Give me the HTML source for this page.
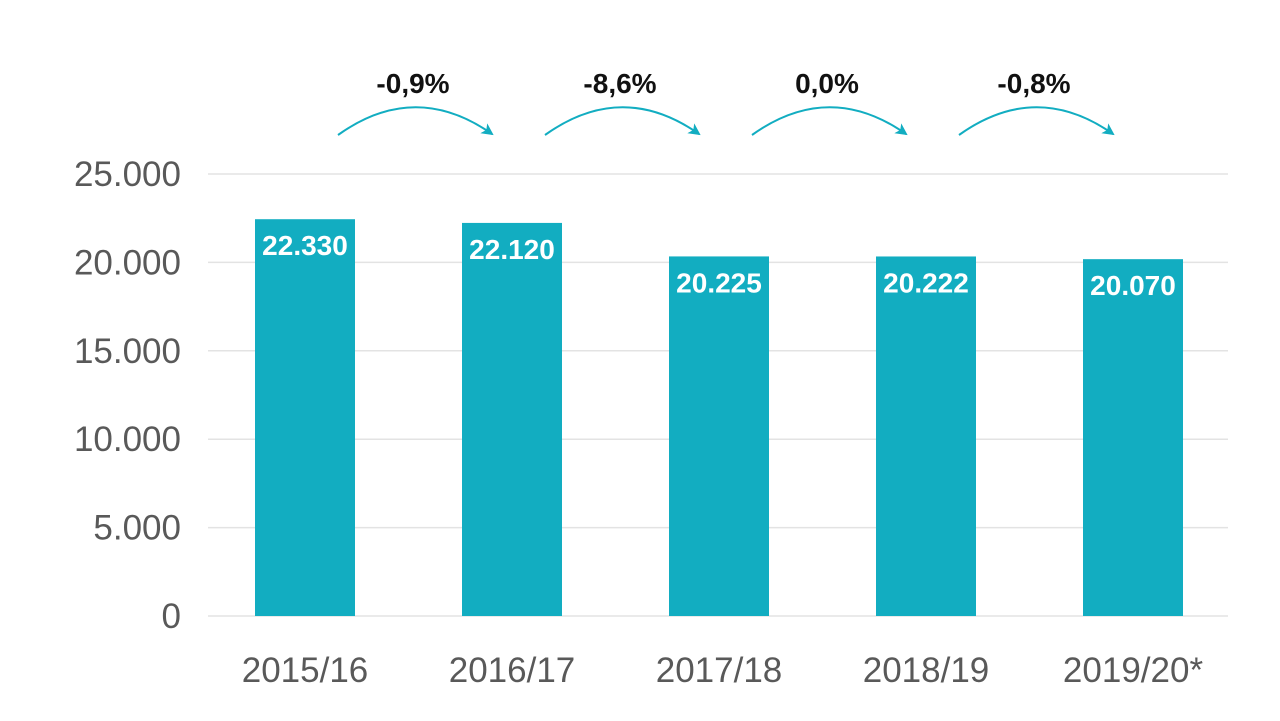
<!DOCTYPE html>
<html><head><meta charset="utf-8"><style>
body{margin:0;background:#fff;width:1280px;height:721px;overflow:hidden}
svg{display:block;font-family:"Liberation Sans",sans-serif}
</style></head><body>
<svg id="c" width="1280" height="721"></svg>
<script>
const categories=["2015/16","2016/17","2017/18","2018/19","2019/20*"];
const values=[22330,22120,20225,20222,20070];
const valueLabels=["22.330","22.120","20.225","20.222","20.070"];
const changeLabels=["-0,9%","-8,6%","0,0%","-0,8%"];
const yTicks=[0,5000,10000,15000,20000,25000];
const yTickLabels=["0","5.000","10.000","15.000","20.000","25.000"];
const NS="http://www.w3.org/2000/svg";
const svg=document.getElementById('c');
const y0=616,yTop=174,yMax=25000;
const y=v=>y0-(v/yMax)*(y0-yTop);
const x=i=>305+i*207;
function mk(t,a,p){const e=document.createElementNS(NS,t);for(const k in a)e.setAttribute(k,a[k]);(p||svg).appendChild(e);return e;}
const defs=mk('defs',{});
const m=mk('marker',{id:'ah',markerWidth:'12',markerHeight:'12',refX:'10',refY:'6',orient:'auto',markerUnits:'userSpaceOnUse'},defs);
mk('path',{d:'M0,0 L12,6 L0,12 L3,6 Z',fill:'#12adc1'},m);
yTicks.forEach((t,i)=>{
 const l=mk('line',{x1:208,x2:1228,y1:y(t),y2:y(t),stroke:'#e3e3e3','stroke-width':1.5});
 
 
 const tx=mk('text',{x:181,y:y(t)+12,'text-anchor':'end','font-size':35,fill:'#595959'});
 tx.textContent=yTickLabels[i];
 
 
});
categories.forEach((c,i)=>{
 const r=mk('rect',{x:x(i)-50,y:y(values[i])-2,width:100,height:y0-y(values[i])+2,fill:'#12adc1'});
 
 
 const v=mk('text',{x:x(i),y:y(values[i])+34,'text-anchor':'middle','font-size':28,'font-weight':'bold',fill:'#fff'});
 v.textContent=valueLabels[i];
 
 
 const xl=mk('text',{x:x(i),y:682,'text-anchor':'middle','font-size':35,fill:'#595959'});
 xl.textContent=c;
 
 
});
changeLabels.forEach((s,i)=>{
 const a=x(i)+33,b=x(i+1)-20,mid=(a+b)/2;
 const p=mk('path',{d:`M${a},135 Q${mid},80 ${b},134`,fill:'none',stroke:'#12adc1','stroke-width':2,'marker-end':'url(#ah)'});
 
 
 const t=mk('text',{x:mid-2,y:93,'text-anchor':'middle','font-size':28,'font-weight':'bold',fill:'#111'});
 t.textContent=s;
 
 
});
</script>
</body></html>
